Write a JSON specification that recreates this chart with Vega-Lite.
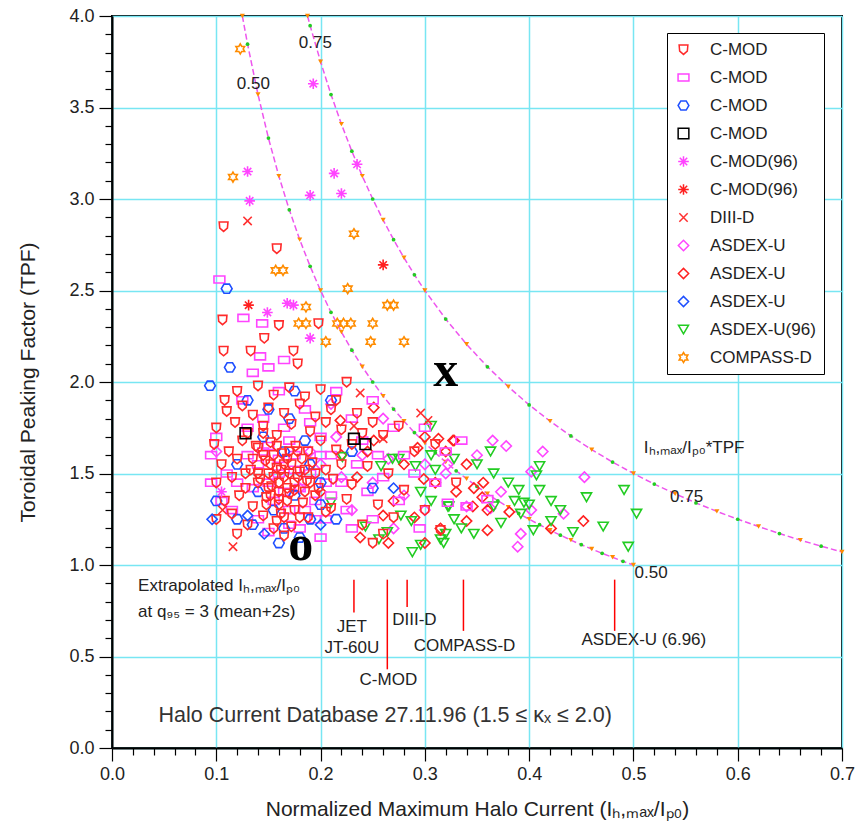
{
"$schema": "https://vega.github.io/schema/vega-lite/v6.json",
"width": 730, "height": 732,
"autosize": "none",
"padding": {"left": 112, "top": 16, "right": 15, "bottom": 87},
"background": "#ffffff",
"config": {"view": {"stroke": "#000", "strokeWidth": 2}, "font": "Liberation Sans"},
"resolve": {"axis": {"x": "independent", "y": "independent"}},
"datasets": {
"pts": [
{"s":"h","x":0.378,"y":1.65},{"s":"h","x":0.413,"y":1.62},{"s":"h","x":0.402,"y":1.51},{"s":"h","x":0.453,"y":1.48},{"s":"h","x":0.373,"y":1.40},{"s":"h","x":0.34,"y":1.32},{"s":"h","x":0.363,"y":1.31},{"s":"h","x":0.402,"y":1.30},{"s":"h","x":0.433,"y":1.28},{"s":"h","x":0.392,"y":1.17},{"s":"h","x":0.389,"y":1.10},{"s":"h","x":0.322,"y":1.55},{"s":"h","x":0.2,"y":1.55},{"s":"h","x":0.22,"y":1.48},{"s":"h","x":0.24,"y":1.6},{"s":"h","x":0.215,"y":1.7},{"s":"h","x":0.25,"y":1.45},{"s":"h","x":0.265,"y":1.58},{"s":"h","x":0.28,"y":1.38},{"s":"h","x":0.3,"y":1.3},{"s":"h","x":0.27,"y":1.2},{"s":"h","x":0.23,"y":1.3},{"s":"h","x":0.26,"y":1.8},{"s":"h","x":0.19,"y":1.62},{"s":"h","x":0.32,"y":1.5},{"s":"h","x":0.35,"y":1.6},{"s":"h","x":0.3,"y":1.55},{"s":"h","x":0.18,"y":1.42},{"s":"h","x":0.21,"y":1.88},{"s":"h","x":0.365,"y":1.68},{"s":"h","x":0.1,"y":1.62},
{"s":"i","x":0.347,"y":1.42},{"s":"i","x":0.356,"y":1.45},{"s":"i","x":0.346,"y":1.32},{"s":"i","x":0.34,"y":1.24},{"s":"i","x":0.36,"y":1.19},{"s":"i","x":0.452,"y":1.24},{"s":"i","x":0.421,"y":1.2},{"s":"i","x":0.381,"y":1.29},{"s":"i","x":0.328,"y":1.68},{"s":"i","x":0.251,"y":1.86},{"s":"i","x":0.219,"y":1.79},{"s":"i","x":0.251,"y":1.68},{"s":"i","x":0.293,"y":1.64},{"s":"i","x":0.313,"y":1.69},{"s":"i","x":0.327,"y":1.68},{"s":"i","x":0.299,"y":1.47},{"s":"i","x":0.238,"y":1.15},{"s":"i","x":0.26,"y":1.27},{"s":"i","x":0.3,"y":1.7},{"s":"i","x":0.32,"y":1.62},{"s":"i","x":0.31,"y":1.45},{"s":"i","x":0.33,"y":1.4},{"s":"i","x":0.28,"y":1.55},{"s":"i","x":0.27,"y":1.35},{"s":"i","x":0.245,"y":1.62},{"s":"i","x":0.22,"y":1.6},{"s":"i","x":0.2,"y":1.4},{"s":"i","x":0.235,"y":1.48},{"s":"i","x":0.3,"y":1.12},{"s":"i","x":0.315,"y":1.2},{"s":"i","x":0.29,"y":1.26},{"s":"i","x":0.265,"y":1.12},{"s":"i","x":0.36,"y":1.3},{"s":"i","x":0.34,"y":1.55},{"s":"i","x":0.355,"y":1.37},
{"s":"k","x":0.363,"y":1.62},{"s":"k","x":0.41,"y":1.54},{"s":"k","x":0.366,"y":1.50},{"s":"k","x":0.407,"y":1.49},{"s":"k","x":0.39,"y":1.41},{"s":"k","x":0.41,"y":1.41},{"s":"k","x":0.491,"y":1.41},{"s":"k","x":0.455,"y":1.37},{"s":"k","x":0.421,"y":1.35},{"s":"k","x":0.386,"y":1.35},{"s":"k","x":0.366,"y":1.32},{"s":"k","x":0.395,"y":1.34},{"s":"k","x":0.40,"y":1.33},{"s":"k","x":0.503,"y":1.28},{"s":"k","x":0.392,"y":1.28},{"s":"k","x":0.373,"y":1.23},{"s":"k","x":0.421,"y":1.24},{"s":"k","x":0.471,"y":1.21},{"s":"k","x":0.404,"y":1.19},{"s":"k","x":0.442,"y":1.18},{"s":"k","x":0.32,"y":1.17},{"s":"k","x":0.347,"y":1.17},{"s":"k","x":0.495,"y":1.10},{"s":"k","x":0.322,"y":1.32},{"s":"k","x":0.328,"y":1.25},{"s":"k","x":0.269,"y":1.58},{"s":"k","x":0.275,"y":1.58},{"s":"k","x":0.291,"y":1.54},{"s":"k","x":0.31,"y":1.52},{"s":"k","x":0.306,"y":1.60},{"s":"k","x":0.328,"y":1.58},{"s":"k","x":0.296,"y":1.40},{"s":"k","x":0.306,"y":1.35},{"s":"k","x":0.323,"y":1.32},{"s":"k","x":0.318,"y":1.12},{"s":"k","x":0.277,"y":1.27},{"s":"k","x":0.287,"y":1.24},{"s":"k","x":0.243,"y":1.21},{"s":"k","x":0.256,"y":1.14},{"s":"k","x":0.264,"y":1.18},{"s":"k","x":0.21,"y":1.34},{"s":"k","x":0.221,"y":1.59},{"s":"k","x":0.258,"y":1.54},{"s":"k","x":0.306,"y":1.76},{"s":"k","x":0.288,"y":1.07},{"s":"k","x":0.296,"y":1.11},{"s":"k","x":0.315,"y":1.14},{"s":"k","x":0.35,"y":1.55},{"s":"k","x":0.38,"y":1.45},{"s":"k","x":0.43,"y":1.3},{"s":"k","x":0.335,"y":1.2},
{"s":"b","x":0.103,"y":2.56},{"s":"b","x":0.126,"y":2.35},{"s":"b","x":0.144,"y":2.32},{"s":"b","x":0.142,"y":2.14},{"s":"b","x":0.15,"y":2.08},{"s":"b","x":0.165,"y":2.12},{"s":"b","x":0.135,"y":2.05},
{"s":"b","x":0.095,"y":1.6},{"s":"b","x":0.095,"y":1.45},{"s":"b","x":0.1,"y":1.7},{"s":"b","x":0.11,"y":1.5},{"s":"b","x":0.115,"y":1.3},{"s":"b","x":0.125,"y":1.9},{"s":"b","x":0.13,"y":1.6},{"s":"b","x":0.135,"y":1.42},{"s":"b","x":0.14,"y":1.25},{"s":"b","x":0.145,"y":1.8},{"s":"b","x":0.15,"y":1.65},{"s":"b","x":0.155,"y":1.35},{"s":"b","x":0.16,"y":1.95},{"s":"b","x":0.165,"y":1.75},{"s":"b","x":0.17,"y":1.3},{"s":"b","x":0.175,"y":1.6},{"s":"b","x":0.18,"y":1.2},{"s":"b","x":0.185,"y":1.85},{"s":"b","x":0.19,"y":1.5},{"s":"b","x":0.195,"y":1.35},{"s":"b","x":0.2,"y":1.7},{"s":"b","x":0.205,"y":1.25},{"s":"b","x":0.21,"y":1.6},{"s":"b","x":0.215,"y":1.95},{"s":"b","x":0.22,"y":1.45},{"s":"b","x":0.225,"y":1.3},{"s":"b","x":0.23,"y":1.8},{"s":"b","x":0.235,"y":1.55},{"s":"b","x":0.24,"y":1.68},{"s":"b","x":0.245,"y":1.4},{"s":"b","x":0.25,"y":1.9},{"s":"b","x":0.255,"y":1.6},{"s":"b","x":0.26,"y":1.48},{"s":"b","x":0.27,"y":1.75},{"s":"b","x":0.275,"y":1.35},{"s":"b","x":0.28,"y":1.6},{"s":"b","x":0.29,"y":1.5},{"s":"b","x":0.3,"y":1.75},{"s":"b","x":0.31,"y":1.45},{"s":"b","x":0.32,"y":1.62},{"s":"b","x":0.34,"y":1.32},{"s":"b","x":0.335,"y":1.68},{"s":"b","x":0.25,"y":1.25},{"s":"b","x":0.23,"y":1.2},{"s":"b","x":0.2,"y":1.15},{"s":"b","x":0.15,"y":1.18},{"s":"b","x":0.12,"y":1.45},{"s":"b","x":0.13,"y":1.75},{"s":"b","x":0.17,"y":1.68},{"s":"b","x":0.18,"y":1.42},{"s":"b","x":0.21,"y":1.38},{"s":"b","x":0.19,"y":1.78},{"s":"b","x":0.16,"y":1.5},{"s":"b","x":0.14,"y":1.55},{"s":"b","x":0.105,"y":1.35},{"s":"b","x":0.36,"y":1.36},{"s":"b","x":0.322,"y":1.34},{"s":"b","x":0.295,"y":1.2},
{"s":"b","x":0.15,"y":1.45},{"s":"b","x":0.165,"y":1.4},{"s":"b","x":0.175,"y":1.52},{"s":"b","x":0.145,"y":1.62},{"s":"b","x":0.185,"y":1.3},{"s":"b","x":0.17,"y":1.22},{"s":"b","x":0.195,"y":1.25},{"s":"b","x":0.16,"y":1.58},{"s":"b","x":0.2,"y":1.6},{"s":"b","x":0.205,"y":1.45},
{"s":"c","x":0.11,"y":2.51},{"s":"c","x":0.113,"y":2.08},{"s":"c","x":0.094,"y":1.98},{"s":"c","x":0.13,"y":1.9},{"s":"c","x":0.15,"y":1.85},{"s":"c","x":0.17,"y":1.8},{"s":"c","x":0.145,"y":1.7},{"s":"c","x":0.165,"y":1.62},{"s":"c","x":0.19,"y":1.55},{"s":"c","x":0.2,"y":1.45},{"s":"c","x":0.175,"y":1.38},{"s":"c","x":0.155,"y":1.3},{"s":"c","x":0.135,"y":1.22},{"s":"c","x":0.165,"y":1.2},{"s":"c","x":0.19,"y":1.25},{"s":"c","x":0.12,"y":1.55},{"s":"c","x":0.1,"y":1.35},{"s":"c","x":0.14,"y":1.4},{"s":"c","x":0.185,"y":1.68},{"s":"c","x":0.21,"y":1.9},{"s":"c","x":0.2,"y":1.33},{"s":"c","x":0.18,"y":1.15},{"s":"c","x":0.16,"y":1.12},{"s":"c","x":0.215,"y":1.25},{"s":"c","x":0.25,"y":1.42},{"s":"c","x":0.23,"y":1.62},{"s":"c","x":0.12,"y":1.25},{"s":"c","x":0.175,"y":1.95},
{"s":"a","x":0.107,"y":2.85},{"s":"a","x":0.158,"y":2.73},{"s":"a","x":0.16,"y":2.31},{"s":"a","x":0.146,"y":2.24},{"s":"a","x":0.107,"y":2.17},{"s":"a","x":0.133,"y":2.17},{"s":"a","x":0.174,"y":2.17},{"s":"a","x":0.178,"y":2.10},{"s":"a","x":0.198,"y":2.32},{"s":"a","x":0.106,"y":2.34},
{"s":"a","x":0.12,"y":1.95},{"s":"a","x":0.14,"y":1.98},{"s":"a","x":0.155,"y":1.93},{"s":"a","x":0.17,"y":1.97},{"s":"a","x":0.185,"y":1.92},{"s":"a","x":0.2,"y":1.96},{"s":"a","x":0.215,"y":1.9},{"s":"a","x":0.225,"y":2.0},{"s":"a","x":0.108,"y":1.9},
{"s":"a","x":0.11,"y":1.84},{"s":"a","x":0.125,"y":1.87},{"s":"a","x":0.135,"y":1.82},{"s":"a","x":0.15,"y":1.86},{"s":"a","x":0.165,"y":1.83},{"s":"a","x":0.18,"y":1.88},{"s":"a","x":0.195,"y":1.81},{"s":"a","x":0.21,"y":1.85},{"s":"a","x":0.235,"y":1.83},{"s":"a","x":0.25,"y":1.78},
{"s":"a","x":0.1,"y":1.75},{"s":"a","x":0.118,"y":1.78},{"s":"a","x":0.13,"y":1.72},{"s":"a","x":0.145,"y":1.76},{"s":"a","x":0.158,"y":1.71},{"s":"a","x":0.172,"y":1.77},{"s":"a","x":0.19,"y":1.73},{"s":"a","x":0.205,"y":1.78},{"s":"a","x":0.22,"y":1.74},{"s":"a","x":0.24,"y":1.72},{"s":"a","x":0.26,"y":1.71},{"s":"a","x":0.275,"y":1.76},
{"s":"a","x":0.098,"y":1.66},{"s":"a","x":0.112,"y":1.62},{"s":"a","x":0.125,"y":1.68},{"s":"a","x":0.14,"y":1.64},{"s":"a","x":0.152,"y":1.67},{"s":"a","x":0.163,"y":1.61},{"s":"a","x":0.176,"y":1.65},{"s":"a","x":0.188,"y":1.62},{"s":"a","x":0.2,"y":1.68},{"s":"a","x":0.215,"y":1.63},{"s":"a","x":0.23,"y":1.66},{"s":"a","x":0.29,"y":1.62},{"s":"a","x":0.31,"y":1.66},
{"s":"a","x":0.105,"y":1.55},{"s":"a","x":0.12,"y":1.58},{"s":"a","x":0.133,"y":1.52},{"s":"a","x":0.147,"y":1.57},{"s":"a","x":0.158,"y":1.53},{"s":"a","x":0.168,"y":1.58},{"s":"a","x":0.18,"y":1.51},{"s":"a","x":0.192,"y":1.56},{"s":"a","x":0.205,"y":1.52},{"s":"a","x":0.22,"y":1.55},{"s":"a","x":0.245,"y":1.54},{"s":"a","x":0.265,"y":1.5},
{"s":"a","x":0.1,"y":1.45},{"s":"a","x":0.115,"y":1.48},{"s":"a","x":0.128,"y":1.42},{"s":"a","x":0.142,"y":1.47},{"s":"a","x":0.153,"y":1.43},{"s":"a","x":0.165,"y":1.48},{"s":"a","x":0.175,"y":1.41},{"s":"a","x":0.187,"y":1.46},{"s":"a","x":0.198,"y":1.42},{"s":"a","x":0.212,"y":1.47},{"s":"a","x":0.23,"y":1.44},{"s":"a","x":0.28,"y":1.41},{"s":"a","x":0.33,"y":1.45},
{"s":"a","x":0.108,"y":1.35},{"s":"a","x":0.122,"y":1.38},{"s":"a","x":0.135,"y":1.32},{"s":"a","x":0.148,"y":1.37},{"s":"a","x":0.16,"y":1.33},{"s":"a","x":0.17,"y":1.39},{"s":"a","x":0.183,"y":1.34},{"s":"a","x":0.195,"y":1.38},{"s":"a","x":0.21,"y":1.31},{"s":"a","x":0.225,"y":1.36},{"s":"a","x":0.255,"y":1.33},{"s":"a","x":0.3,"y":1.3},
{"s":"a","x":0.1,"y":1.25},{"s":"a","x":0.115,"y":1.28},{"s":"a","x":0.13,"y":1.22},{"s":"a","x":0.145,"y":1.27},{"s":"a","x":0.158,"y":1.24},{"s":"a","x":0.172,"y":1.21},{"s":"a","x":0.188,"y":1.26},{"s":"a","x":0.205,"y":1.29},{"s":"a","x":0.24,"y":1.22},{"s":"a","x":0.27,"y":1.26},
{"s":"a","x":0.12,"y":1.17},{"s":"a","x":0.165,"y":1.16},{"s":"a","x":0.26,"y":1.17},{"s":"a","x":0.315,"y":1.19},{"s":"a","x":0.25,"y":1.12},
{"s":"a","x":0.15,"y":1.5},{"s":"a","x":0.16,"y":1.45},{"s":"a","x":0.165,"y":1.55},{"s":"a","x":0.155,"y":1.6},{"s":"a","x":0.17,"y":1.5},{"s":"a","x":0.175,"y":1.45},{"s":"a","x":0.16,"y":1.4},{"s":"a","x":0.15,"y":1.42},
{"s":"a","x":0.14,"y":1.5},{"s":"a","x":0.145,"y":1.6},{"s":"a","x":0.155,"y":1.48},{"s":"a","x":0.162,"y":1.52},{"s":"a","x":0.168,"y":1.42},{"s":"a","x":0.172,"y":1.55},{"s":"a","x":0.178,"y":1.48},{"s":"a","x":0.182,"y":1.58},{"s":"a","x":0.152,"y":1.38},{"s":"a","x":0.158,"y":1.65},{"s":"a","x":0.148,"y":1.33},{"s":"a","x":0.168,"y":1.35},{"s":"a","x":0.162,"y":1.28},{"s":"a","x":0.175,"y":1.3},{"s":"a","x":0.185,"y":1.4},{"s":"a","x":0.19,"y":1.45},{"s":"a","x":0.195,"y":1.5},{"s":"a","x":0.14,"y":1.45},{"s":"a","x":0.135,"y":1.58},{"s":"a","x":0.128,"y":1.5},{"s":"a","x":0.138,"y":1.65},{"s":"a","x":0.178,"y":1.62},{"s":"a","x":0.185,"y":1.52},{"s":"a","x":0.17,"y":1.62},{"s":"a","x":0.16,"y":1.36},{"s":"a","x":0.152,"y":1.55},{"s":"a","x":0.18,"y":1.26},{"s":"a","x":0.165,"y":1.26},{"s":"a","x":0.155,"y":1.2},{"s":"a","x":0.145,"y":1.72},
{"s":"d","x":0.128,"y":1.72},{"s":"d","x":0.232,"y":1.69},{"s":"d","x":0.243,"y":1.66},
{"s":"e","x":0.193,"y":3.63},{"s":"e","x":0.13,"y":3.15},{"s":"e","x":0.132,"y":2.99},{"s":"e","x":0.19,"y":3.02},{"s":"e","x":0.213,"y":3.14},{"s":"e","x":0.22,"y":3.03},{"s":"e","x":0.235,"y":3.19},{"s":"e","x":0.149,"y":2.38},{"s":"e","x":0.168,"y":2.43},{"s":"e","x":0.174,"y":2.42},{"s":"e","x":0.19,"y":2.24},{"s":"e","x":0.105,"y":1.4},
{"s":"f","x":0.26,"y":2.64},{"s":"f","x":0.131,"y":2.42},
{"s":"g","x":0.13,"y":2.88},{"s":"g","x":0.116,"y":1.10},{"s":"g","x":0.238,"y":1.94},{"s":"g","x":0.232,"y":1.76},{"s":"g","x":0.26,"y":1.69},{"s":"g","x":0.296,"y":1.83},{"s":"g","x":0.303,"y":1.79},{"s":"g","x":0.106,"y":1.3},
{"s":"j","x":0.146,"y":1.17},{"s":"j","x":0.2,"y":1.22},{"s":"j","x":0.27,"y":1.42},{"s":"j","x":0.096,"y":1.25},{"s":"j","x":0.13,"y":1.27},
{"s":"l","x":0.123,"y":3.82},{"s":"l","x":0.116,"y":3.12},{"s":"l","x":0.157,"y":2.61},{"s":"l","x":0.164,"y":2.61},{"s":"l","x":0.232,"y":2.81},{"s":"l","x":0.226,"y":2.51},{"s":"l","x":0.186,"y":2.41},{"s":"l","x":0.179,"y":2.32},{"s":"l","x":0.186,"y":2.32},{"s":"l","x":0.205,"y":2.22},{"s":"l","x":0.216,"y":2.32},{"s":"l","x":0.222,"y":2.32},{"s":"l","x":0.229,"y":2.32},{"s":"l","x":0.25,"y":2.32},{"s":"l","x":0.248,"y":2.22},{"s":"l","x":0.264,"y":2.42},{"s":"l","x":0.27,"y":2.42},{"s":"l","x":0.28,"y":2.22}
],
"curve": [
{"c":"0.50","x":0.125,"y":4.0,"m":"o"},{"c":"0.50","x":0.13,"y":3.846,"m":"g"},{"c":"0.50","x":0.14,"y":3.571,"m":"o"},{"c":"0.50","x":0.15,"y":3.333,"m":"g"},{"c":"0.50","x":0.16,"y":3.125,"m":"o"},{"c":"0.50","x":0.17,"y":2.941,"m":"g"},{"c":"0.50","x":0.18,"y":2.778,"m":"o"},{"c":"0.50","x":0.19,"y":2.632,"m":"g"},{"c":"0.50","x":0.2,"y":2.5,"m":"o"},{"c":"0.50","x":0.21,"y":2.381,"m":"g"},{"c":"0.50","x":0.22,"y":2.273,"m":"o"},{"c":"0.50","x":0.23,"y":2.174,"m":"g"},{"c":"0.50","x":0.24,"y":2.083,"m":"o"},{"c":"0.50","x":0.25,"y":2.0,"m":"g"},{"c":"0.50","x":0.26,"y":1.923,"m":"o"},{"c":"0.50","x":0.27,"y":1.852,"m":"g"},{"c":"0.50","x":0.28,"y":1.786,"m":"o"},{"c":"0.50","x":0.29,"y":1.724,"m":"g"},{"c":"0.50","x":0.3,"y":1.667,"m":"o"},{"c":"0.50","x":0.31,"y":1.613,"m":"g"},{"c":"0.50","x":0.32,"y":1.5625,"m":"o"},{"c":"0.50","x":0.33,"y":1.515,"m":"g"},{"c":"0.50","x":0.34,"y":1.471,"m":"o"},{"c":"0.50","x":0.35,"y":1.429,"m":"g"},{"c":"0.50","x":0.36,"y":1.389,"m":"o"},{"c":"0.50","x":0.37,"y":1.351,"m":"g"},{"c":"0.50","x":0.38,"y":1.316,"m":"o"},{"c":"0.50","x":0.39,"y":1.282,"m":"g"},{"c":"0.50","x":0.4,"y":1.25,"m":"o"},{"c":"0.50","x":0.41,"y":1.22,"m":"g"},{"c":"0.50","x":0.42,"y":1.19,"m":"o"},{"c":"0.50","x":0.43,"y":1.163,"m":"g"},{"c":"0.50","x":0.44,"y":1.136,"m":"o"},{"c":"0.50","x":0.45,"y":1.111,"m":"g"},{"c":"0.50","x":0.46,"y":1.087,"m":"o"},{"c":"0.50","x":0.47,"y":1.064,"m":"g"},{"c":"0.50","x":0.48,"y":1.042,"m":"o"},{"c":"0.50","x":0.49,"y":1.02,"m":"g"},{"c":"0.50","x":0.5,"y":1.0,"m":"o"},
{"c":"0.75","x":0.1875,"y":4.0,"m":"o"},{"c":"0.75","x":0.19,"y":3.947,"m":"g"},{"c":"0.75","x":0.2,"y":3.75,"m":"o"},{"c":"0.75","x":0.21,"y":3.571,"m":"g"},{"c":"0.75","x":0.22,"y":3.409,"m":"o"},{"c":"0.75","x":0.23,"y":3.261,"m":"g"},{"c":"0.75","x":0.24,"y":3.125,"m":"o"},{"c":"0.75","x":0.25,"y":3.0,"m":"g"},{"c":"0.75","x":0.26,"y":2.885,"m":"o"},{"c":"0.75","x":0.27,"y":2.778,"m":"g"},{"c":"0.75","x":0.28,"y":2.679,"m":"o"},{"c":"0.75","x":0.29,"y":2.586,"m":"g"},{"c":"0.75","x":0.3,"y":2.5,"m":"o"},{"c":"0.75","x":0.32,"y":2.344,"m":"g"},{"c":"0.75","x":0.34,"y":2.206,"m":"o"},{"c":"0.75","x":0.36,"y":2.083,"m":"g"},{"c":"0.75","x":0.38,"y":1.974,"m":"o"},{"c":"0.75","x":0.4,"y":1.875,"m":"g"},{"c":"0.75","x":0.42,"y":1.786,"m":"o"},{"c":"0.75","x":0.44,"y":1.705,"m":"g"},{"c":"0.75","x":0.46,"y":1.63,"m":"o"},{"c":"0.75","x":0.48,"y":1.5625,"m":"g"},{"c":"0.75","x":0.5,"y":1.5,"m":"o"},{"c":"0.75","x":0.52,"y":1.442,"m":"g"},{"c":"0.75","x":0.54,"y":1.389,"m":"o"},{"c":"0.75","x":0.56,"y":1.339,"m":"g"},{"c":"0.75","x":0.58,"y":1.293,"m":"o"},{"c":"0.75","x":0.6,"y":1.25,"m":"g"},{"c":"0.75","x":0.62,"y":1.21,"m":"o"},{"c":"0.75","x":0.64,"y":1.172,"m":"g"},{"c":"0.75","x":0.66,"y":1.136,"m":"o"},{"c":"0.75","x":0.68,"y":1.103,"m":"g"},{"c":"0.75","x":0.7,"y":1.071,"m":"o"}
],
"bars": [
{"d":"JET","x":0.232,"y":0.74,"y2":0.92},{"d":"C-MOD","x":0.264,"y":0.43,"y2":0.92},{"d":"DIII-D","x":0.283,"y":0.77,"y2":0.92},{"d":"COMPASS-D","x":0.337,"y":0.64,"y2":0.92},{"d":"ASDEX-U","x":0.482,"y":0.64,"y2":0.92}
],
"ann": [
{"g":"cl","x":0.1356,"y":3.63,"t":"0.50"},{"g":"cl","x":0.195,"y":3.85,"t":"0.75"},{"g":"cl","x":0.517,"y":0.955,"t":"0.50"},{"g":"cl","x":0.551,"y":1.37,"t":"0.75"},
{"g":"fl","x":0.51,"y":1.64,"t":"Iₕ,ₘₐₓ/Iₚ₀*TPF"},{"g":"fl","x":0.025,"y":0.885,"t":"Extrapolated Iₕ,ₘₐₓ/Iₚ₀"},{"g":"fl","x":0.025,"y":0.745,"t":"at q₉₅ = 3 (mean+2s)"},
{"g":"dl","x":0.23,"y":0.66,"t":"JET"},{"g":"dl","x":0.23,"y":0.545,"t":"JT-60U"},{"g":"dl","x":0.265,"y":0.37,"t":"C-MOD"},{"g":"dl","x":0.29,"y":0.70,"t":"DIII-D"},{"g":"dl","x":0.338,"y":0.555,"t":"COMPASS-D"},{"g":"dl","x":0.51,"y":0.59,"t":"ASDEX-U (6.96)"},
{"g":"db","x":0.262,"y":0.176,"t":"Halo Current Database 27.11.96 (1.5 ≤ κₓ ≤ 2.0)"},
{"g":"big","x":0.32,"y":1.98,"t":"x"},{"g":"big","x":0.181,"y":1.03,"t":"o"}
]
},
"layer": [
{
"data": {"name": "curve"},
"mark": {"type": "line", "color": "#ee55ee", "strokeDash": [6, 3], "strokeWidth": 1.5},
"encoding": {
"x": {"field": "x", "type": "quantitative", "scale": {"domain": [0, 0.7], "nice": false, "zero": false},
"axis": {"title": "Normalized Maximum Halo Current (Iₕ,ₘₐₓ/Iₚ₀)", "orient": "bottom",
"values": [0,0.1,0.2,0.3,0.4,0.5,0.6,0.7], "format": ".1f", "tickSize": 13,
"gridColor": "#78e6f3", "gridWidth": 1.5, "domainColor": "#000", "domainWidth": 2, "tickColor": "#000", "tickWidth": 1.2,
"labelFontSize": 18, "labelColor": "#222", "labelPadding": 4, "labelFlush": false, "labelOverlap": false,
"titleFontSize": 21, "titleFontWeight": "normal", "titleColor": "#222", "titlePadding": 15}},
"y": {"field": "y", "type": "quantitative", "scale": {"domain": [0, 4], "nice": false, "zero": false},
"axis": {"title": "Toroidal Peaking Factor (TPF)", "orient": "left",
"values": [0,0.5,1,1.5,2,2.5,3,3.5,4], "format": ".1f", "tickSize": 13,
"gridColor": "#78e6f3", "gridWidth": 1.5, "domainColor": "#000", "domainWidth": 2, "tickColor": "#000", "tickWidth": 1.2,
"labelFontSize": 18, "labelColor": "#222", "labelPadding": 5, "labelOverlap": false, "labelFlush": false,
"titleFontSize": 21, "titleFontWeight": "normal", "titleColor": "#222", "titlePadding": 30}},
"detail": {"field": "c"}
}
},
{
"data": {"name": "curve"},
"transform": [{"filter": "datum.m=='o'"}],
"mark": {"type": "point", "shape": "triangle-down", "filled": true, "color": "#ff8c00", "size": 26, "opacity": 1},
"encoding": {
"x": {"field": "x", "type": "quantitative",
"axis": {"orient": "bottom", "title": null, "labels": false, "grid": false, "domain": false, "tickSize": 7, "tickColor": "#000", "tickWidth": 1.2,
"values": [0.02,0.04,0.06,0.08,0.12,0.14,0.16,0.18,0.22,0.24,0.26,0.28,0.32,0.34,0.36,0.38,0.42,0.44,0.46,0.48,0.52,0.54,0.56,0.58,0.62,0.64,0.66,0.68]}},
"y": {"field": "y", "type": "quantitative",
"axis": {"orient": "left", "title": null, "labels": false, "grid": false, "domain": false, "tickSize": 7, "tickColor": "#000", "tickWidth": 1.2,
"values": [0.1,0.2,0.3,0.4,0.6,0.7,0.8,0.9,1.1,1.2,1.3,1.4,1.6,1.7,1.8,1.9,2.1,2.2,2.3,2.4,2.6,2.7,2.8,2.9,3.1,3.2,3.3,3.4,3.6,3.7,3.8,3.9]}}
}
},
{
"data": {"name": "curve"},
"transform": [{"filter": "datum.m=='g'"}],
"mark": {"type": "point", "shape": "circle", "filled": true, "color": "#22cc22", "size": 14, "opacity": 1},
"encoding": {"x": {"field": "x", "type": "quantitative", "axis": null}, "y": {"field": "y", "type": "quantitative", "axis": null}}
},
{
"data": {"name": "pts"},
"mark": {"type": "point", "filled": false, "strokeWidth": 1.6, "opacity": 1},
"encoding": {
"x": {"field": "x", "type": "quantitative", "axis": null},
"y": {"field": "y", "type": "quantitative", "axis": null},
"color": {"field": "s", "type": "nominal",
"scale": {"domain": ["a","b","c","d","e","f","g","h","i","j","k","l"],
"range": ["#ff2a2a","#ff44ff","#1e4fff","#000000","#ff44ff","#ff2020","#ff3030","#ff44ff","#ff2020","#1e4fff","#22cc22","#ff8c00"]},
"legend": {"orient": "none", "legendX": 555, "legendY": 17, "title": null, "strokeColor": "#000", "fillColor": "#fff", "padding": 8,
"labelFontSize": 17, "labelColor": "#222", "labelOffset": 18, "rowPadding": 10, "symbolStrokeWidth": 1.5,
"labelExpr": "datum.label<'e' ? 'C-MOD' : datum.label<'g' ? 'C-MOD(96)' : datum.label=='g' ? 'DIII-D' : datum.label<'k' ? 'ASDEX-U' : datum.label=='k' ? 'ASDEX-U(96)' : 'COMPASS-D'"}},
"shape": {"field": "s", "type": "nominal",
"scale": {"domain": ["a","b","c","d","e","f","g","h","i","j","k","l"],
"range": ["M-0.8,-0.8L0.8,-0.8L0.7,0.3L0,0.9L-0.7,0.3Z","M-1,-0.65H1V0.65H-1Z","M-1,0L-0.5,-0.85L0.5,-0.85L1,0L0.5,0.85L-0.5,0.85Z","square","M-1,0H1M0,-1V1M-0.7,-0.7L0.7,0.7M-0.7,0.7L0.7,-0.7","M-1,0H1M0,-1V1M-0.7,-0.7L0.7,0.7M-0.7,0.7L0.7,-0.7","M-0.8,-0.8L0.8,0.8M-0.8,0.8L0.8,-0.8","diamond","diamond","diamond","triangle-down","M0,-1L0.29,-0.5H0.87L0.58,0L0.87,0.5H0.29L0,1L-0.29,0.5H-0.87L-0.58,0L-0.87,-0.5H-0.29Z"]}},
"size": {"field": "s", "type": "nominal",
"scale": {"domain": ["a","b","c","d","e","f","g","h","i","j","k","l"],
"range": [120,100,120,100,250,250,140,220,220,220,38,220]}}
}
},
{
"data": {"name": "bars"},
"mark": {"type": "rule", "color": "#ff0000", "strokeWidth": 1.5},
"encoding": {"x": {"field": "x", "type": "quantitative", "axis": null}, "y": {"field": "y", "type": "quantitative", "axis": null}, "y2": {"field": "y2"}}
},
{
"data": {"name": "ann"},
"transform": [{"filter": "datum.g=='cl' || datum.g=='dl'"}],
"mark": {"type": "text", "fontSize": 17, "color": "#222", "align": "center", "baseline": "middle"},
"encoding": {"x": {"field": "x", "type": "quantitative", "axis": null}, "y": {"field": "y", "type": "quantitative", "axis": null}, "text": {"field": "t"}}
},
{
"data": {"name": "ann"},
"transform": [{"filter": "datum.g=='fl'"}],
"mark": {"type": "text", "fontSize": 17, "color": "#222", "align": "left", "baseline": "middle"},
"encoding": {"x": {"field": "x", "type": "quantitative", "axis": null}, "y": {"field": "y", "type": "quantitative", "axis": null}, "text": {"field": "t"}}
},
{
"data": {"name": "ann"},
"transform": [{"filter": "datum.g=='db'"}],
"mark": {"type": "text", "fontSize": 21.5, "color": "#333", "align": "center", "baseline": "middle"},
"encoding": {"x": {"field": "x", "type": "quantitative", "axis": null}, "y": {"field": "y", "type": "quantitative", "axis": null}, "text": {"field": "t"}}
},
{
"data": {"name": "ann"},
"transform": [{"filter": "datum.g=='big'"}],
"mark": {"type": "text", "fontSize": 50, "font": "Liberation Serif", "fontWeight": "bold", "color": "#000", "align": "center", "baseline": "alphabetic"},
"encoding": {"x": {"field": "x", "type": "quantitative", "axis": null}, "y": {"field": "y", "type": "quantitative", "axis": null}, "text": {"field": "t"}}
}
]
}
